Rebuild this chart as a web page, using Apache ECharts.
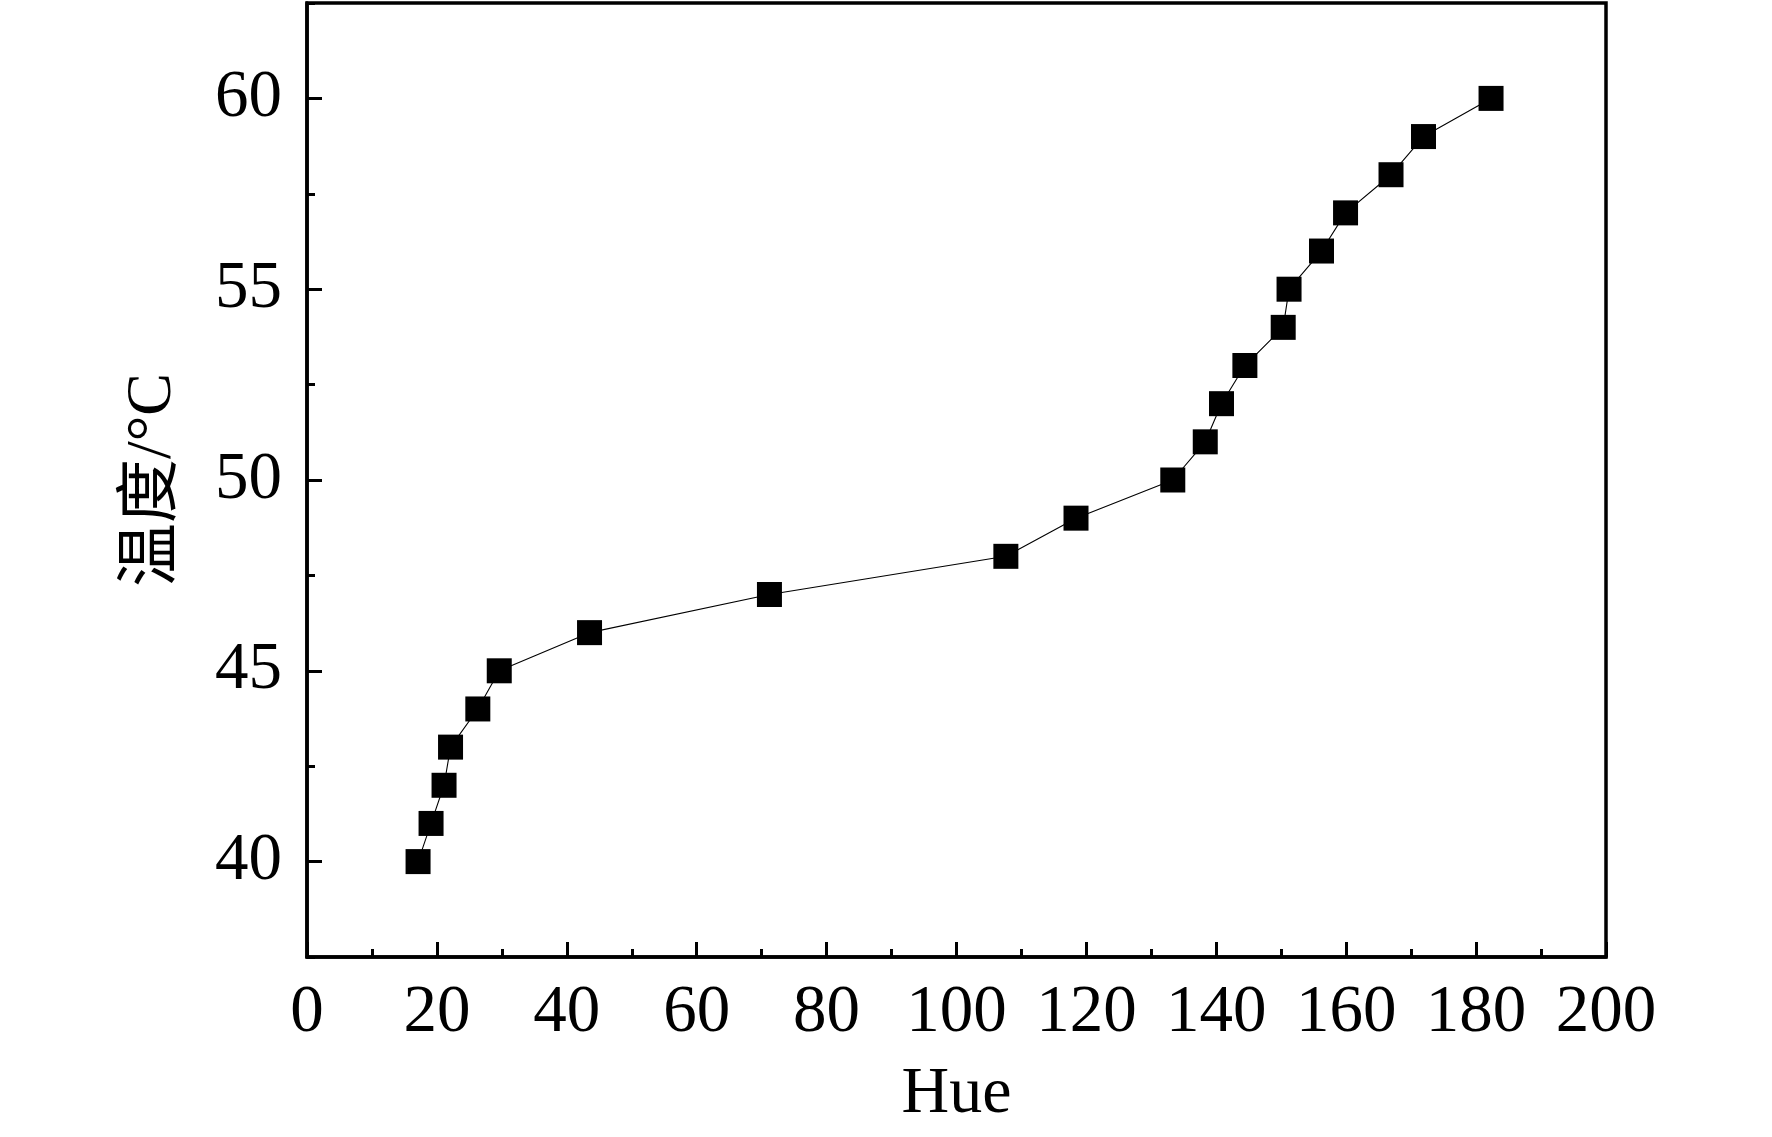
<!DOCTYPE html>
<html>
<head>
<meta charset="utf-8">
<script src="https://cdn.jsdelivr.net/npm/echarts@6/dist/echarts.min.js"></script>
<style>
  html, body { margin: 0; padding: 0; background: #fff; }
  #main { width: 1772px; height: 1137px; }
</style>
</head>
<body>
<div id="main"></div>
<script>
    // Hue 与温度的对应点
    var hue = [17.1, 19.1, 21.1, 22.1, 26.3, 29.6, 43.5, 71.2, 107.6, 118.4, 133.3,
               138.3, 140.8, 144.4, 150.3, 151.2, 156.2, 159.9, 166.9, 171.9, 182.3];
    var temp = [40, 41, 42, 43, 44, 45, 46, 47, 48, 49, 50,
                51, 52, 53, 54, 55, 56, 57, 58, 59, 60];
    var yMajor = [40, 45, 50, 55, 60];

    var points = [];
    for (var i = 0; i < hue.length; i++) {
        points.push([hue[i], temp[i]]);
    }

    var serif = '"Liberation Serif", "Noto Sans CJK SC", serif';
    var myChart = echarts.init(document.getElementById('main'));
    var option = {
        animation: false,
        backgroundColor: '#fff',
        grid: {
            left: 307, right: 166, top: 3, bottom: 180,
            show: true, borderColor: '#000', borderWidth: 3.5
        },
        xAxis: {
            type: 'value',
            min: 0, max: 200, interval: 20,
            name: 'Hue',
            nameLocation: 'middle',
            nameGap: 105,
            nameTextStyle: { fontFamily: serif, fontSize: 66, color: '#000' },
            axisLine: { show: true, lineStyle: { color: '#000', width: 3.5 } },
            axisTick: { show: true, inside: true, length: 15, lineStyle: { color: '#000', width: 3 } },
            minorTick: { show: true, splitNumber: 2, length: 8, lineStyle: { color: '#000', width: 3 } },
            axisLabel: { fontFamily: serif, fontSize: 67, color: '#000', margin: 23 },
            splitLine: { show: false }
        },
        yAxis: [
            {
                // 主刻度 + 标签
                type: 'value',
                min: 37.5, max: 62.5,
                position: 'left',
                name: '温度/°C',
                nameLocation: 'middle',
                nameGap: 122,
                nameTextStyle: { fontFamily: serif, fontSize: 64, color: '#000' },
                axisLine: { show: true, lineStyle: { color: '#000', width: 3.5 } },
                axisTick: { show: true, inside: true, length: 15, customValues: yMajor, lineStyle: { color: '#000', width: 3 } },
                axisLabel: { fontFamily: serif, fontSize: 67, color: '#000', margin: 25, customValues: yMajor },
                splitLine: { show: false }
            },
            {
                // 次刻度
                type: 'value',
                min: 37.5, max: 62.5, interval: 2.5,
                position: 'left',
                offset: 0,
                axisLine: { show: false },
                axisTick: { show: true, inside: true, length: 8, lineStyle: { color: '#000', width: 3 } },
                axisLabel: { show: false },
                splitLine: { show: false }
            }
        ],
        series: [
            {
                type: 'line',
                data: points,
                symbol: 'rect',
                symbolSize: 25,
                itemStyle: { color: '#000' },
                lineStyle: { color: '#000', width: 1.1 }
            }
        ]
    };
    myChart.setOption(option);
</script>
</body>
</html>
